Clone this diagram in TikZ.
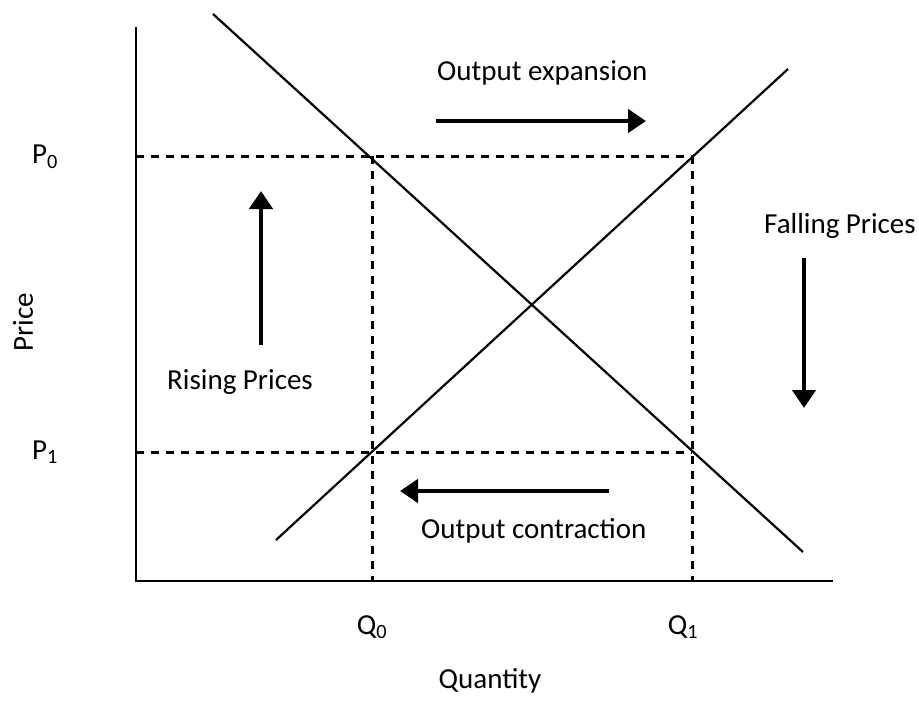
\documentclass[tikz,border=0pt]{standalone}
\usepackage{fontspec}
\setmainfont{Carlito}
\usetikzlibrary{arrows.meta}
\newcommand\lbl[2]{#1\textsubscript{#2}}
\begin{document}
\begin{tikzpicture}[x=1pt,y=-1pt,
  txt/.style={font=\fontsize{29}{34}\selectfont, inner sep=0pt},
  axisline/.style={line width=2.4pt},
  curve/.style={line width=2.2pt},
  guide/.style={line width=3pt, dash pattern=on 8pt off 7pt},
  move/.style={line width=4.5pt, -{Triangle[length=18pt,width=23pt]}}]
\useasboundingbox (0,0) rectangle (919,710);
% axes
\coordinate (origin) at (136,581);
\coordinate (ytop) at (136,27);
\coordinate (xend) at (833,581);
\draw[axisline] (ytop) -- (origin) -- (xend);
% price and quantity levels
\coordinate (p0) at (136,156);
\coordinate (p1) at (136,452);
\coordinate (a) at (372,156);
\coordinate (b) at (692,156);
\coordinate (c) at (372,452);
\coordinate (d) at (692,452);
\coordinate (q0) at (372,581);
\coordinate (q1) at (692,581);
\draw[guide] (p0) -- (b);
\draw[guide] (p1) -- (d);
\draw[guide] (a) -- (q0);
\draw[guide] (b) -- (q1);
% demand and supply
\coordinate (dtop) at (213,14);
\coordinate (dbot) at (803,552);
\coordinate (sbot) at (276,540);
\coordinate (stop) at (788,69);
\draw[curve] (dtop) -- (dbot);
\draw[curve] (sbot) -- (stop);
% adjustment arrows
\coordinate (e1) at (436,121);
\coordinate (e2) at (646,121);
\coordinate (r1) at (261,345);
\coordinate (r2) at (261,191);
\coordinate (f1) at (804,258);
\coordinate (f2) at (804,408);
\coordinate (c1) at (609,491);
\coordinate (c2) at (400,491);
\draw[move] (e1) -- (e2);
\draw[move] (r1) -- (r2);
\draw[move] (f1) -- (f2);
\draw[move] (c1) -- (c2);
% labels
\node[txt, anchor=base west] (lexp) at (437,80) {Output expansion};
\node[txt, anchor=base west] (lcon) at (421,538) {Output contraction};
\node[txt] (lrise) at (240,382) {Rising Prices};
\node[txt, anchor=base] (lfall) at (840,233) {Falling Prices};
\node[txt] (lp0) at (45,157) {\lbl{P}{0}};
\node[txt] (lp1) at (45,452) {\lbl{P}{1}};
\node[txt, anchor=base] (lq0) at (372,634) {\lbl{Q}{0}};
\node[txt, anchor=base] (lq1) at (683,634) {\lbl{Q}{1}};
\node[txt, anchor=base] (lqty) at (490,688) {Quantity};
\node[txt, rotate=90] (lprice) at (23,322) {Price};
\end{tikzpicture}
\end{document}
